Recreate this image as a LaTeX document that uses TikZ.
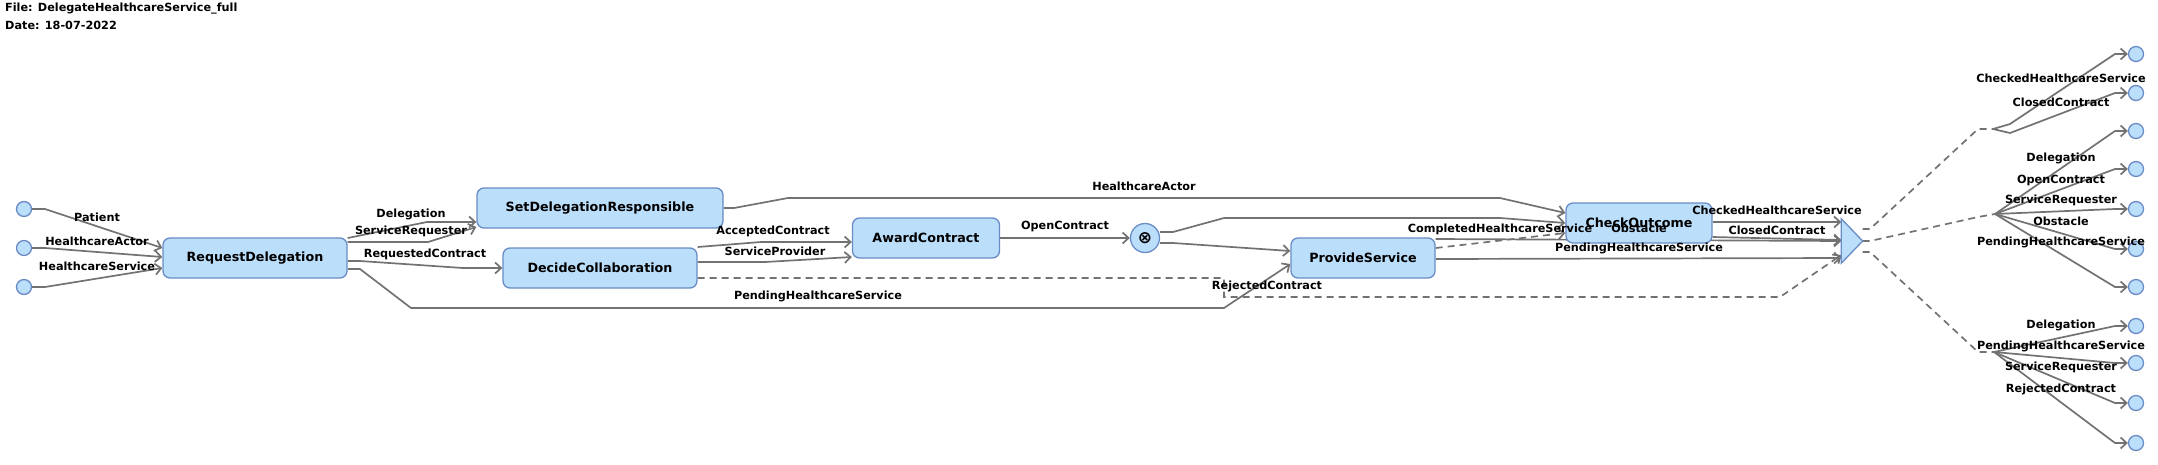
\documentclass[tikz,border=0pt]{standalone}
\usepackage{fontspec}
\setmainfont{DejaVu Sans}
\usepackage{xcolor}
\definecolor{boxfill}{HTML}{BBDEFB}
\definecolor{boxline}{HTML}{6A8CC6}
\definecolor{flowgray}{HTML}{727272}
\usepackage{tikz}
\usetikzlibrary{arrows.meta}
\usetikzlibrary{backgrounds}

\tikzset{
    task/.style={draw=boxline, fill=boxfill, line width=1.3pt, rounded corners=7pt,
        minimum height=40pt, inner sep=0pt, font=\fontsize{12.7}{14}\selectfont\bfseries},
    port/.style={circle, draw=boxline, fill=boxfill, line width=1.3pt, minimum size=15pt, inner sep=0pt},
    flowline/.style={draw=flowgray, line width=1.7pt, -{Straight Barb[length=6pt,width=11pt]}},
    optline/.style={draw=flowgray, line width=1.7pt, dash pattern=on 7pt off 5pt},
    lbl/.style={font=\fontsize{11.25}{13}\selectfont\bfseries, inner sep=0pt},
}

\begin{document}
\begin{tikzpicture}[x=1pt, y=-1pt]
            \useasboundingbox (0,0) rectangle (2158,464);

            \node[lbl, anchor=west] (file) at (5,9) {File: DelegateHealthcareService\_full};
            \node[lbl, anchor=west] (date) at (5,25) {Date: 18-07-2022};

            \node[port] (pPatient) at (24,209) {};
            \node[port] (pActor) at (24,248) {};
            \node[port] (pService) at (24,287) {};

            \node[task, minimum width=184pt] (RD) at (255,258) {RequestDelegation};
            \node[task, minimum width=246pt] (SDR) at (600,208) {SetDelegationResponsible};
            \node[task, minimum width=194pt] (DC) at (600,268) {DecideCollaboration};
            \node[task, minimum width=147pt] (AC) at (926,238) {AwardContract};
            \node[port, minimum size=29pt, font=\fontsize{17}{17}\selectfont\bfseries] (xor) at (1145,238) {⊗};
            \node[task, minimum width=144pt] (PS) at (1363,258) {ProvideService};
            \node[task, minimum width=146pt] (CO) at (1639,223) {CheckOutcome};

            \node[inner sep=0pt, minimum width=21pt, minimum height=44pt] (merge) at (1852,241) {};
            \draw[draw=boxline, fill=boxfill, line width=1.3pt] (merge.north west) -- (merge.east) -- (merge.south west) -- cycle;

            \coordinate (fork1) at (1993,129);
            \coordinate (fork2) at (1995,214);
            \coordinate (fork3) at (1994,352);

            \node[port] (out1) at (2136,54) {};
            \node[port] (out2) at (2136,93) {};
            \node[port] (out3) at (2136,131) {};
            \node[port] (out4) at (2136,169) {};
            \node[port] (out5) at (2136,209) {};
            \node[port] (out6) at (2136,249) {};
            \node[port] (out7) at (2136,287) {};
            \node[port] (out8) at (2136,326) {};
            \node[port] (out9) at (2136,363) {};
            \node[port] (out10) at (2136,403) {};
            \node[port] (out11) at (2136,443) {};

            \begin{scope}[on background layer]
            \draw[flowline] (pPatient.east) -- (45,209) -- (RD.west |- 0,248);
            \draw[flowline] (pActor.east) -- (45,248) -- (RD.west |- 0,257);
            \draw[flowline] (pService.east) -- (45,287) -- (RD.west |- 0,268);

            \draw[flowline] (RD.east |- 0,238) -- (427,222) -- (SDR.west |- 0,222);
            \draw[flowline] (RD.east |- 0,242) -- (428,242) -- (SDR.west |- 0,227);
            \draw[flowline] (RD.east |- 0,261) -- (360,261) -- (463,268) -- (DC.west);
            \draw[flowline] (RD.east |- 0,269) -- (360,269) -- (411,308) -- (1224,308) -- (PS.west |- 0,264);

            \draw[flowline] (SDR.east) -- (734,208) -- (788,198) -- (1500,198) -- (CO.west |- 0,213);
            \draw[flowline] (DC.east |- 0,247) -- (761,242) -- (AC.west |- 0,242);
            \draw[flowline] (DC.east |- 0,262) -- (765,262) -- (AC.west |- 0,257);
            \draw[optline, -{Straight Barb[length=6pt,width=11pt]}] (DC.east |- 0,278) -- (1224,278) -- (1224,297) -- (1780,297) -- (merge.west |- 0,255);

            \draw[flowline] (AC.east) -- (xor.west);
            \draw[flowline] (xor.east |- 0,232) -- (1173,232) -- (1224,218) -- (1500,218) -- (CO.west |- 0,223);
            \draw[flowline] (xor.east |- 0,243) -- (1173,243) -- (PS.west |- 0,251);

            \draw[optline, -{Straight Barb[length=6pt,width=11pt]}] (PS.east |- 0,248) -- (CO.west |- 0,233);
            \draw[flowline] (PS.east |- 0,239) -- (merge.west |- 0,241);
            \draw[flowline] (PS.east |- 0,259) -- (merge.west |- 0,258);
            \draw[flowline] (CO.east |- 0,222) -- (merge.west |- 0,222);
            \draw[flowline] (CO.east |- 0,237) -- (merge.west |- 0,240);

            \draw[optline] (merge.east |- 0,229) -- (1870,229) -- (1978,129) -- (fork1);
            \draw[optline] (merge.east) -- (1870,241) -- (1978,217) -- (fork2);
            \draw[optline] (merge.east |- 0,252) -- (1870,252) -- (1978,352) -- (fork3);

            \draw[flowline] (fork1) -- (2010,124) -- (2115,54) -- (out1.west);
            \draw[flowline] (fork1) -- (2010,133) -- (2115,93) -- (out2.west);

            \draw[flowline] (fork2) -- (2115,131) -- (out3.west);
            \draw[flowline] (fork2) -- (2115,169) -- (out4.west);
            \draw[flowline] (fork2) -- (2115,209) -- (out5.west);
            \draw[flowline] (fork2) -- (2115,249) -- (out6.west);
            \draw[flowline] (fork2) -- (2115,287) -- (out7.west);

            \draw[flowline] (fork3) -- (2115,326) -- (out8.west);
            \draw[flowline] (fork3) -- (2115,363) -- (out9.west);
            \draw[flowline] (fork3) -- (2115,403) -- (out10.west);
            \draw[flowline] (fork3) -- (2115,443) -- (out11.west);
            \end{scope}

            \node[lbl] (lPatient) at (97,217) {Patient};
            \node[lbl] (lActor) at (97,241) {HealthcareActor};
            \node[lbl] (lService) at (97,266) {HealthcareService};
            \node[lbl] (lDelegation) at (411,214) {Delegation};
            \node[lbl] (lRequester) at (411,231) {ServiceRequester};
            \node[lbl] (lRequested) at (425,254) {RequestedContract};
            \node[lbl] (lActorB) at (1144,186) {HealthcareActor};
            \node[lbl] (lAccepted) at (773,231) {AcceptedContract};
            \node[lbl] (lProvider) at (775,251) {ServiceProvider};
            \node[lbl] (lOpen) at (1065,226) {OpenContract};
            \node[lbl] (lPending) at (818,296) {PendingHealthcareService};
            \node[lbl] (lRejected) at (1267,286) {RejectedContract};
            \node[lbl] (lCompleted) at (1500,229) {CompletedHealthcareService};
            \node[lbl] (lObstacle) at (1639,228) {Obstacle};
            \node[lbl] (lPendingB) at (1639,248) {PendingHealthcareService};
            \node[lbl] (lChecked) at (1777,210) {CheckedHealthcareService};
            \node[lbl] (lClosed) at (1777,230) {ClosedContract};

            \node[lbl] (rChecked) at (2061,78) {CheckedHealthcareService};
            \node[lbl] (rClosed) at (2061,102) {ClosedContract};
            \node[lbl] (rDelegation) at (2061,158) {Delegation};
            \node[lbl] (rOpen) at (2061,180) {OpenContract};
            \node[lbl] (rRequester) at (2061,200) {ServiceRequester};
            \node[lbl] (rObstacle) at (2061,221) {Obstacle};
            \node[lbl] (rPending) at (2061,242) {PendingHealthcareService};
            \node[lbl] (rDelegationB) at (2061,325) {Delegation};
            \node[lbl] (rPendingB) at (2061,346) {PendingHealthcareService};
            \node[lbl] (rRequesterB) at (2061,367) {ServiceRequester};
            \node[lbl] (rRejected) at (2061,389) {RejectedContract};
\end{tikzpicture}
\end{document}
